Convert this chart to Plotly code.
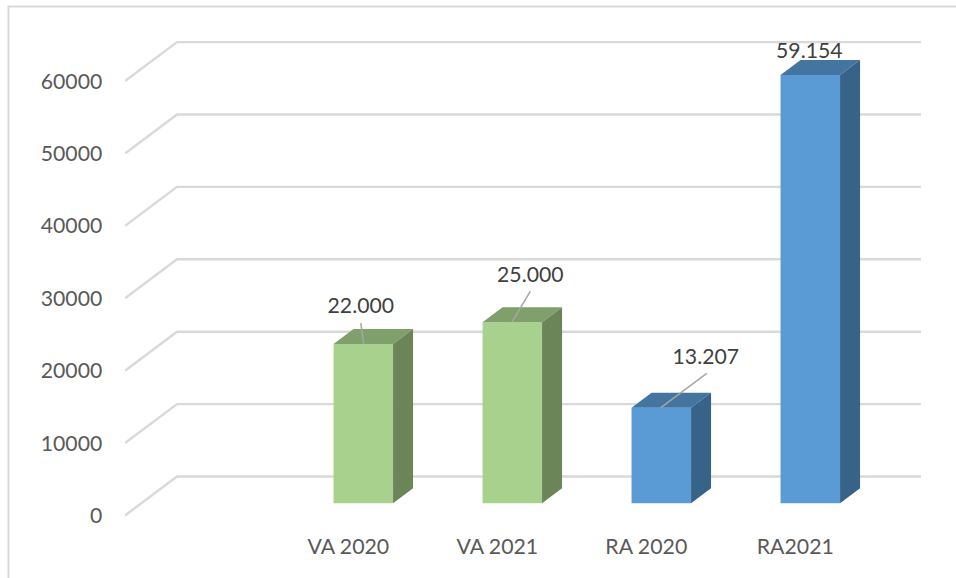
import plotly.graph_objects as go

# --- data ---
categories = ["VA 2020", "VA 2021", "RA 2020", "RA2021"]
values = [22000, 25000, 13207, 59154]
value_labels = ["22.000", "25.000", "13.207", "59.154"]
y_ticks = [0, 10000, 20000, 30000, 40000, 50000, 60000]

# --- styling ---
FONT = "Lato"
FRONT = ["#A9D18E", "#A9D18E", "#5B9BD5", "#5B9BD5"]
TOP = ["#7F9F6B", "#7F9F6B", "#4475A1", "#4475A1"]
SIDE = ["#6B8559", "#6B8559", "#386388", "#386388"]
GRID = "#D9D9D9"

# --- geometry: pixel frame of the plot and helpers ---
W, H = 956, 578
L, B = 125, 525           # plot left / bottom in pixels
ZERO_PX = 515.5           # pixel y of value 0 on the front edge
PX_PER_UNIT = 7.24 / 1000
TICK0_PX, STEP_PX = 348.3, 149.0


def dx(px):
    return px / STEP_PX


def dy(px):
    return px / PX_PER_UNIT


x_range = [(L - TICK0_PX) / STEP_PX, (W - TICK0_PX) / STEP_PX]
y_range = [-(B - ZERO_PX) / PX_PER_UNIT, ZERO_PX / PX_PER_UNIT]

BAR_SHIFT = dx(15.0)
BAR_W = dx(59.5)
BASE = dy(12.2)
DEPTH_X, DEPTH_Y = dx(20), dy(15)
GRID_DX, GRID_DY = dx(52), dy(39)
GRID_END = (921 - TICK0_PX) / STEP_PX

# label centre and leader end, offset in pixels from the bar's top front edge
label_offset = [(-2.5, -36), (18, -45.5), (44.5, -49), (-1, -22)]
leader_start = [(0.5, 0), (-0.5, 0), (-0.5, 0), None]
leader_end = [(-2.5, -21), (18, -31), (45.5, -34.4), None]

fig = go.Figure()

# front faces
centers = [i + BAR_SHIFT for i in range(len(values))]
fig.add_trace(go.Bar(
    x=centers, y=values, base=BASE, width=BAR_W,
    marker=dict(color=FRONT, line=dict(width=0)),
    hoverinfo="skip", showlegend=False,
))

# top and side faces
for c, v, top, side in zip(centers, values, TOP, SIDE):
    xl, xr = c - BAR_W / 2, c + BAR_W / 2
    y0, y1 = BASE, BASE + v
    fig.add_trace(go.Scatter(
        x=[xl, xr, xr + DEPTH_X, xl + DEPTH_X, xl],
        y=[y1, y1, y1 + DEPTH_Y, y1 + DEPTH_Y, y1],
        mode="lines", fill="toself", fillcolor=top, line=dict(width=0),
        hoverinfo="skip", showlegend=False,
    ))
    fig.add_trace(go.Scatter(
        x=[xr, xr + DEPTH_X, xr + DEPTH_X, xr, xr],
        y=[y0, y0 + DEPTH_Y, y1 + DEPTH_Y, y1, y0],
        mode="lines", fill="toself", fillcolor=side, line=dict(width=0),
        hoverinfo="skip", showlegend=False,
    ))

# leader lines
for c, v, s, e in zip(centers, values, leader_start, leader_end):
    if e is None:
        continue
    fig.add_trace(go.Scatter(
        x=[c + dx(s[0]), c + dx(e[0])],
        y=[BASE + v - dy(s[1]), BASE + v - dy(e[1])],
        mode="lines", line=dict(color="#A6A6A6", width=1.5),
        hoverinfo="skip", showlegend=False,
    ))

# data labels
fig.add_trace(go.Scatter(
    x=[c + dx(o[0]) for c, o in zip(centers, label_offset)],
    y=[BASE + v - dy(o[1]) for v, o in zip(values, label_offset)],
    text=value_labels, mode="text", textposition="middle center",
    textfont=dict(family=FONT, size=21.2, color="#404040"),
    hoverinfo="skip", showlegend=False,
))

# perspective gridlines, beneath the bars
shapes = []
x0 = x_range[0]
for t in y_ticks:
    shapes.append(dict(
        type="path", layer="below", xref="x", yref="y",
        path=f"M {x0} {t} L {x0 + GRID_DX} {t + GRID_DY} L {GRID_END} {t + GRID_DY}",
        line=dict(color=GRID, width=2.4),
    ))

# chart frame: top and left edges only
plot_w, plot_h = W - L, B
fx = (8.5 - L) / plot_w
fy = (B - 6.5) / plot_h
shapes.append(dict(
    type="path", layer="below", xref="paper", yref="paper",
    path=f"M {fx} -0.2 L {fx} {fy} L 1 {fy}",
    line=dict(color=GRID, width=2),
))

fig.update_layout(
    width=W, height=H, autosize=False,
    margin=dict(l=L, r=0, t=0, b=H - B, pad=0),
    paper_bgcolor="white", plot_bgcolor="rgba(0,0,0,0)",
    showlegend=False, shapes=shapes, hovermode=False,
    xaxis=dict(
        range=x_range, tickmode="array",
        tickvals=list(range(len(categories))), ticktext=categories,
        tickfont=dict(family=FONT, size=21.3, color="#595959"),
        showgrid=False, zeroline=False, showline=False,
        ticks="outside", ticklen=2, tickcolor="rgba(0,0,0,0)",
    ),
    yaxis=dict(
        range=y_range, tickmode="array",
        tickvals=y_ticks, ticktext=[str(t) for t in y_ticks],
        tickfont=dict(family=FONT, size=21.2, color="#595959"),
        showgrid=False, zeroline=False, showline=False,
        ticks="outside", ticklen=17.5, tickcolor="rgba(0,0,0,0)",
    ),
)

fig.write_html(
    "out.html",
    config=dict(displayModeBar=False),
    post_script="document.body.style.margin='0';document.documentElement.style.overflow='hidden';",
)
